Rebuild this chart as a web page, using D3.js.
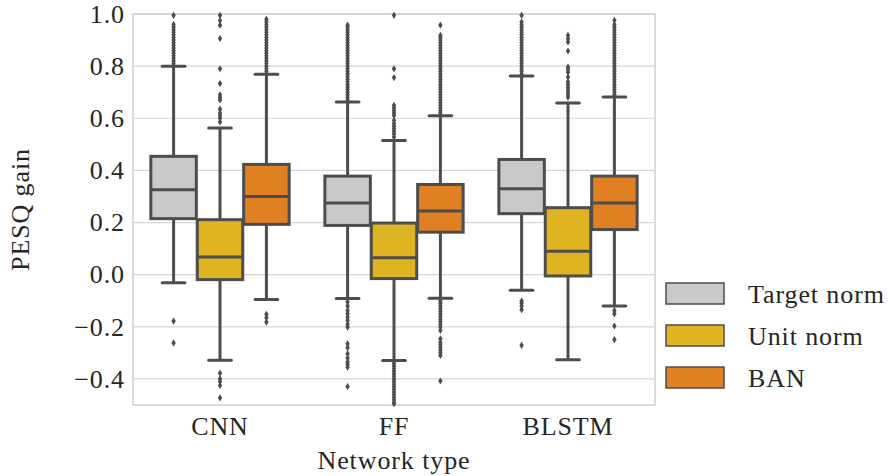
<!DOCTYPE html>
<html>
<head>
<meta charset="utf-8">
<script src="https://cdn.jsdelivr.net/npm/d3@7"></script>
<style>
  body { margin: 0; background: #fff; }
  text { font-family: "Liberation Serif", serif; fill: #262626; }
</style>
</head>
<body>
<div id="chart"></div>
<script>
// Categories and series
const networks = ["CNN", "FF", "BLSTM"];
const methods = ["Target norm", "Unit norm", "BAN"];
const colors = ["#c9cac8", "#dfb421", "#e08022"];
const yTicks = [-0.4, -0.2, 0.0, 0.2, 0.4, 0.6, 0.8, 1.0];

// box stats per network, in method order: [lowWhisker, q1, median, q3, highWhisker]
const cnnStats = [[-0.031, 0.215, 0.326, 0.454, 0.800], [-0.328, -0.019, 0.068, 0.211, 0.563], [-0.095, 0.193, 0.300, 0.423, 0.769]];
const ffStats = [[-0.091, 0.189, 0.275, 0.378, 0.662], [-0.329, -0.015, 0.065, 0.198, 0.515], [-0.090, 0.163, 0.244, 0.346, 0.610]];
const blstmStats = [[-0.060, 0.234, 0.330, 0.442, 0.762], [-0.326, -0.005, 0.090, 0.257, 0.659], [-0.120, 0.173, 0.275, 0.378, 0.682]];

// outliers per network, in method order
const cnnOutliers = [
  [0.81, 0.82, 0.83, 0.84, 0.85, 0.86, 0.87, 0.88, 0.89, 0.90, 0.91, 0.92, 0.93, 0.94, 0.95, 0.96, 0.995, -0.178, -0.262],
  [0.586, 0.60, 0.61, 0.62, 0.635, 0.67, 0.68, 0.69, 0.733, 0.79, 0.906, 0.957, 0.975, 0.995, -0.378, -0.40, -0.41, -0.425, -0.473],
  [0.78, 0.79, 0.80, 0.81, 0.82, 0.83, 0.84, 0.85, 0.86, 0.87, 0.88, 0.89, 0.90, 0.91, 0.92, 0.93, 0.94, 0.95, 0.96, 0.97, 0.98, -0.152, -0.165, -0.182]
];
const ffOutliers = [
  [0.67, 0.68, 0.69, 0.70, 0.71, 0.72, 0.73, 0.74, 0.75, 0.76, 0.77, 0.78, 0.79, 0.80, 0.81, 0.82, 0.83, 0.84, 0.85, 0.86, 0.87, 0.88, 0.89, 0.90, 0.91, 0.92, 0.93, 0.94, 0.95, 0.957,
   -0.105, -0.12, -0.137, -0.15, -0.163, -0.175, -0.19, -0.201, -0.265, -0.28, -0.303, -0.32, -0.335, -0.345, -0.355, -0.429],
  [0.528, 0.54, 0.55, 0.56, 0.57, 0.58, 0.592, 0.611, 0.62, 0.63, 0.64, 0.65, 0.756, 0.79, 0.995,
   -0.34, -0.35, -0.36, -0.37, -0.38, -0.39, -0.40, -0.41, -0.42, -0.43, -0.44, -0.45, -0.46, -0.47, -0.48, -0.49, -0.495],
  [0.62, 0.63, 0.64, 0.65, 0.66, 0.67, 0.68, 0.69, 0.70, 0.71, 0.72, 0.73, 0.74, 0.75, 0.76, 0.77, 0.78, 0.79, 0.80, 0.81, 0.82, 0.83, 0.84, 0.85, 0.86, 0.87, 0.88, 0.89, 0.90, 0.91, 0.918, 0.957,
   -0.10, -0.11, -0.12, -0.13, -0.14, -0.15, -0.16, -0.17, -0.18, -0.19, -0.20, -0.214, -0.246, -0.26, -0.27, -0.28, -0.29, -0.30, -0.31, -0.408]
];
const blstmOutliers = [
  [0.77, 0.78, 0.79, 0.80, 0.81, 0.82, 0.83, 0.84, 0.85, 0.86, 0.87, 0.88, 0.89, 0.90, 0.91, 0.92, 0.93, 0.94, 0.95, 0.96, 0.969, 0.995, -0.101, -0.11, -0.12, -0.134, -0.271],
  [0.681, 0.69, 0.70, 0.71, 0.72, 0.73, 0.74, 0.758, 0.777, 0.787, 0.797, 0.858, 0.893, 0.905, 0.918],
  [0.69, 0.70, 0.71, 0.72, 0.73, 0.74, 0.75, 0.76, 0.77, 0.78, 0.79, 0.80, 0.81, 0.82, 0.83, 0.84, 0.85, 0.86, 0.87, 0.88, 0.89, 0.90, 0.91, 0.92, 0.93, 0.94, 0.95, 0.96, 0.976,
   -0.137, -0.15, -0.197, -0.249]
];

const allStats = [cnnStats, ffStats, blstmStats];
const allOutliers = [cnnOutliers, ffOutliers, blstmOutliers];

const margin = { top: 14, right: 241, bottom: 71, left: 133 };
const width = 896 - margin.left - margin.right;
const height = 476 - margin.top - margin.bottom;
const lineColor = "#4d4d4d";
const fontSize = "26px";
const spacing = "0.9px";

const svg = d3.select("#chart")
    .append("svg")
    .attr("width", 896)
    .attr("height", 476);

const g = svg.append("g")
    .attr("transform", `translate(${margin.left},${margin.top})`);

const x = d3.scaleBand().domain(networks).range([0, width]).padding(0);
const bw = x.bandwidth();
const xHue = d3.scaleBand().domain(methods).range([-0.4 * bw, 0.4 * bw]).padding(0);
const boxW = xHue.bandwidth() * 0.98;

const y = d3.scaleLinear().domain([-0.5, 1.0]).range([height, 0]);

// grid
g.selectAll(".grid")
    .data(yTicks)
    .enter().append("line")
    .attr("x1", 0).attr("x2", width)
    .attr("y1", d => y(d)).attr("y2", d => y(d))
    .attr("stroke", "#d5d5d5")
    .attr("stroke-width", 1.2);

// frame
g.append("rect")
    .attr("width", width).attr("height", height)
    .attr("fill", "none")
    .attr("stroke", "#d0d0d0")
    .attr("stroke-width", 1.5);

// boxes
networks.forEach((net, i) => {
    methods.forEach((m, j) => {
        const s = allStats[i][j];
        const cx = x(net) + bw / 2 + xHue(m) + xHue.bandwidth() / 2;
        const grp = g.append("g");
        // whiskers
        grp.append("line")
            .attr("x1", cx).attr("x2", cx)
            .attr("y1", y(s[3])).attr("y2", y(s[4]))
            .attr("stroke", lineColor).attr("stroke-width", 3);
        grp.append("line")
            .attr("x1", cx).attr("x2", cx)
            .attr("y1", y(s[1])).attr("y2", y(s[0]))
            .attr("stroke", lineColor).attr("stroke-width", 3);
        // caps
        [s[0], s[4]].forEach(v => {
            grp.append("line")
                .attr("x1", cx - boxW / 4).attr("x2", cx + boxW / 4)
                .attr("y1", y(v)).attr("y2", y(v))
                .attr("stroke", lineColor).attr("stroke-width", 3)
                .attr("stroke-linecap", "round");
        });
        // box
        grp.append("rect")
            .attr("x", cx - boxW / 2)
            .attr("y", y(s[3]))
            .attr("width", boxW)
            .attr("height", y(s[1]) - y(s[3]))
            .attr("fill", colors[j])
            .attr("stroke", lineColor).attr("stroke-width", 3);
        // median
        grp.append("line")
            .attr("x1", cx - boxW / 2).attr("x2", cx + boxW / 2)
            .attr("y1", y(s[2])).attr("y2", y(s[2]))
            .attr("stroke", lineColor).attr("stroke-width", 3);
        // outliers (diamonds)
        grp.selectAll(".out")
            .data(allOutliers[i][j])
            .enter().append("path")
            .attr("d", "M0,-3.6L2.2,0L0,3.6L-2.2,0Z")
            .attr("transform", d => `translate(${cx},${y(d)})`)
            .attr("fill", lineColor);
    });
});

// y axis
const yAxis = g.append("g")
    .call(d3.axisLeft(y).tickValues(yTicks).tickSize(0).tickPadding(8)
        .tickFormat(d => d3.format(".1f")(d).replace("-", "\u2212")));
yAxis.select(".domain").remove();
yAxis.selectAll("text")
    .style("font-family", "Liberation Serif, serif")
    .style("font-size", fontSize)
    .style("letter-spacing", spacing)
    .attr("fill", "#262626");

// x axis
const xAxis = g.append("g")
    .attr("transform", `translate(0,${height})`)
    .call(d3.axisBottom(x).tickSize(0).tickPadding(12));
xAxis.select(".domain").remove();
xAxis.selectAll("text")
    .style("font-family", "Liberation Serif, serif")
    .style("font-size", fontSize)
    .style("letter-spacing", spacing)
    .attr("fill", "#262626");

// axis labels
svg.append("text")
    .attr("x", margin.left + width / 2)
    .attr("y", 469)
    .attr("text-anchor", "middle")
    .style("font-size", fontSize)
    .style("letter-spacing", spacing)
    .text("Network type");

svg.append("text")
    .attr("transform", `translate(29,${margin.top + height / 2}) rotate(-90)`)
    .attr("text-anchor", "middle")
    .style("font-size", fontSize)
    .style("letter-spacing", spacing)
    .text("PESQ gain");

// legend
const legend = svg.append("g").attr("transform", "translate(666,283)");
methods.forEach((m, j) => {
    const row = legend.append("g").attr("transform", `translate(0,${j * 42})`);
    row.append("rect")
        .attr("width", 58).attr("height", 21)
        .attr("fill", colors[j])
        .attr("stroke", lineColor).attr("stroke-width", 1.5);
    row.append("text")
        .attr("x", 82).attr("y", 10.5)
        .attr("dy", "0.35em")
        .style("font-size", fontSize)
        .style("letter-spacing", spacing)
        .text(m);
});
</script>
</body>
</html>
